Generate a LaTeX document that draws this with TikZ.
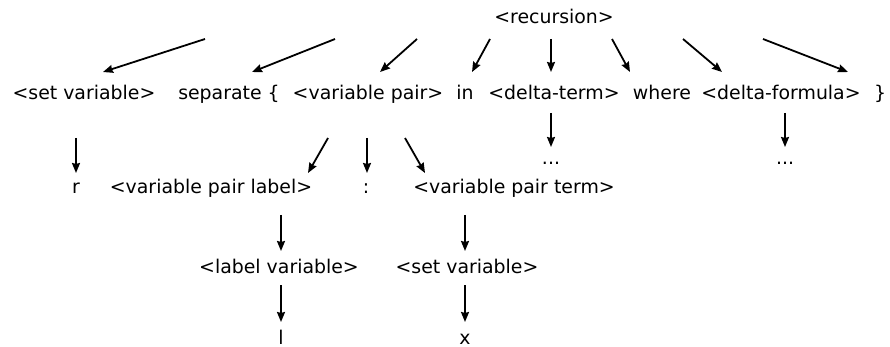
\documentclass[tikz,border=0pt]{standalone}
\usepackage{fontspec}
\setmainfont{DejaVu Sans}
\usetikzlibrary{arrows.meta}
\begin{document}
\begin{tikzpicture}[x=1pt,y=-1pt,
  lab/.style={anchor=base,inner sep=0pt,font=\fontsize{18.9}{22}\selectfont},
  arr/.style={line width=1.8pt,-{Stealth[length=10pt,width=8pt,inset=1pt]}}]
\useasboundingbox (0,0) rectangle (890,347);
% row 1
\node[lab] (root) at (554,24) {<recursion>};
% row 2
\node[lab] (sv1) at (84,100) {<set variable>};
\node[lab] (sep) at (229,100) {separate \{};
\node[lab] (vp) at (368,100) {<variable pair>};
\node[lab] (in) at (465,100) {in};
\node[lab] (dt) at (554,100) {<delta-term>};
\node[lab] (wh) at (662,100) {where};
\node[lab] (df) at (781,100) {<delta-formula>};
\node[lab] (rb) at (880,100) {\}};
% dots
\node[lab] (d1) at (551,165) {...};
\node[lab] (d2) at (785,165) {...};
% row 3
\node[lab] (r) at (76,194) {r};
\node[lab] (vpl) at (211,194) {<variable pair label>};
\node[lab] (colon) at (366,194) {:};
\node[lab] (vpt) at (514,194) {<variable pair term>};
% row 4
\node[lab] (lv) at (279,273) {<label variable>};
\node[lab] (sv2) at (467,273) {<set variable>};
% row 5
\node[lab] (l) at (281,344) {l};
\node[lab] (x) at (465,344) {x};
% edges from root
\draw[arr] ([shift={(-349,15)}]root.base) -- ([shift={(19,-28)}]sv1.base);
\draw[arr] ([shift={(-219,15)}]root.base) -- ([shift={(23,-28)}]sep.base);
\draw[arr] ([shift={(-137,15)}]root.base) -- ([shift={(12,-28)}]vp.base);
\draw[arr] ([shift={(-64,15)}]root.base) -- ([shift={(7,-28)}]in.base);
\draw[arr] ([shift={(-3,15)}]root.base) -- ([shift={(-3,-28)}]dt.base);
\draw[arr] ([shift={(58,15)}]root.base) -- ([shift={(-32,-28)}]wh.base);
\draw[arr] ([shift={(129,15)}]root.base) -- ([shift={(-59,-28)}]df.base);
\draw[arr] ([shift={(209,15)}]root.base) -- ([shift={(-32,-28)}]rb.base);
% row 2 -> row 3
\draw[arr] ([shift={(-8,38)}]sv1.base) -- ([shift={(0,-21)}]r.base);
\draw[arr] ([shift={(-40,38)}]vp.base) -- ([shift={(97,-21)}]vpl.base);
\draw[arr] ([shift={(-1,38)}]vp.base) -- ([shift={(1,-21)}]colon.base);
\draw[arr] ([shift={(37,38)}]vp.base) -- ([shift={(-89,-21)}]vpt.base);
\draw[arr] ([shift={(-3,13)}]dt.base) -- ([shift={(0,-18)}]d1.base);
\draw[arr] ([shift={(4,13)}]df.base) -- ([shift={(0,-18)}]d2.base);
% row 3 -> row 4
\draw[arr] ([shift={(70,21)}]vpl.base) -- ([shift={(2,-22)}]lv.base);
\draw[arr] ([shift={(-49,21)}]vpt.base) -- ([shift={(-2,-22)}]sv2.base);
% row 4 -> row 5
\draw[arr] ([shift={(2,12)}]lv.base) -- ([shift={(0,-22)}]l.base);
\draw[arr] ([shift={(-2,12)}]sv2.base) -- ([shift={(0,-22)}]x.base);
\end{tikzpicture}
\end{document}
